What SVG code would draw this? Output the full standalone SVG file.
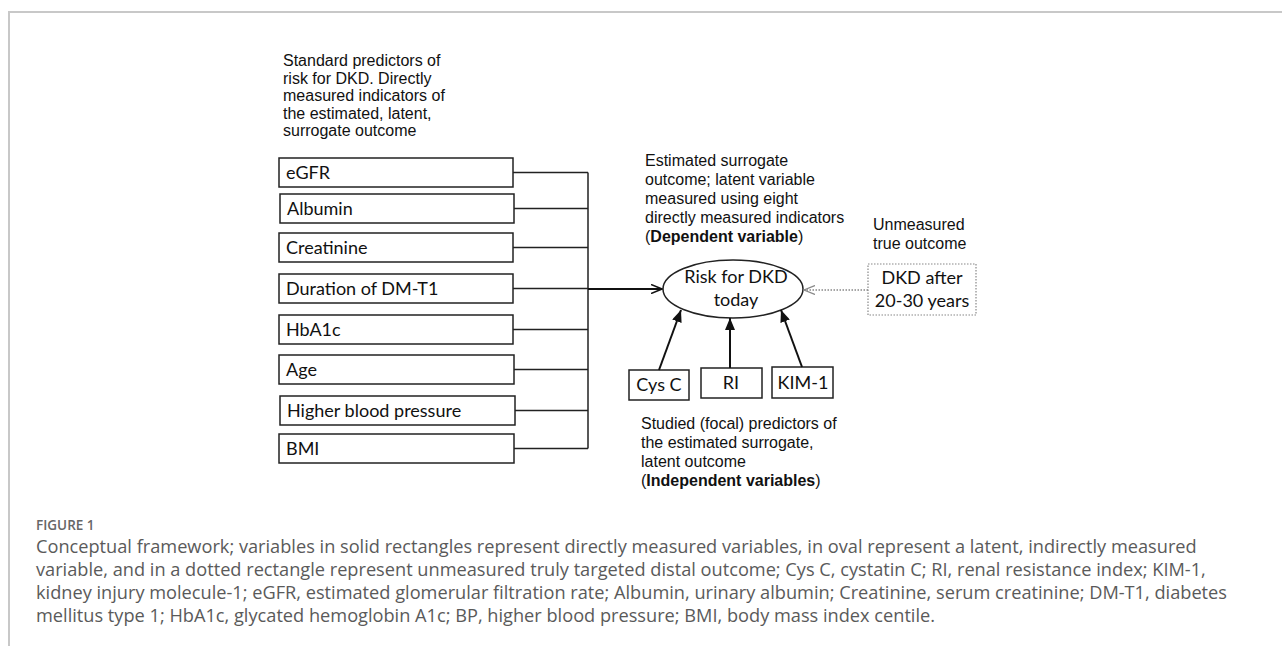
<svg xmlns="http://www.w3.org/2000/svg" width="1282" height="646" viewBox="0 0 1282 646">
<defs>
<style>
.head{font-family:"Liberation Sans",Arial,sans-serif;font-size:16px;fill:#111}
.lbl{font-family:Lato,"Open Sans",sans-serif;font-size:18px;fill:#111}
.box{fill:#fff;stroke:#222;stroke-width:1.5}
.dot{fill:#fff;stroke:#888;stroke-width:1.2;stroke-dasharray:1.5 1.5}
.con{fill:none;stroke:#222;stroke-width:1.5}
.thick{fill:none;stroke:#111;stroke-width:2}
.cap{font-family:"Open Sans","Noto Sans",sans-serif;font-size:18.2px;fill:#5a5a5a}
.fig{font-family:"Open Sans","Noto Sans",sans-serif;font-size:13.5px;font-weight:600;fill:#666}
.frame{fill:none;stroke:#c8c8c8;stroke-width:2}
</style>
<marker id="filled" viewBox="0 0 12 10" refX="12" refY="5" markerWidth="12" markerHeight="10" markerUnits="userSpaceOnUse" orient="auto">
<path d="M0,0 L12,5 L0,10 Z" fill="#111"/>
</marker>
<marker id="open" viewBox="0 0 12 10" refX="11" refY="5" markerWidth="12" markerHeight="10" markerUnits="userSpaceOnUse" orient="auto">
<path d="M0,0.5 L11,5 L0,9.5" fill="none" stroke="#111" stroke-width="1.6"/>
</marker>
<marker id="opengray" viewBox="0 0 12 10" refX="11" refY="5" markerWidth="12" markerHeight="10" markerUnits="userSpaceOnUse" orient="auto">
<path d="M0,0.5 L11,5 L0,9.5" fill="none" stroke="#888" stroke-width="1.3"/>
</marker>
</defs>
<rect width="1282" height="646" fill="#fff"/>
<path class="frame" d="M9,646 L9,12 L1282,12"/>

<g id="heading-standard">
<text class="head" x="283" y="66">Standard predictors of</text>
<text class="head" x="283" y="83.5">risk for DKD. Directly</text>
<text class="head" x="283" y="101">measured indicators of</text>
<text class="head" x="283" y="118.5">the estimated, latent,</text>
<text class="head" x="283" y="136">surrogate outcome</text>
</g>

<g id="node-egfr"><rect class="box" x="279" y="158" width="234" height="29"/><text class="lbl" x="286" y="178.5">eGFR</text></g>
<g id="node-albumin"><rect class="box" x="280" y="194" width="234" height="29"/><text class="lbl" x="287" y="214.5">Albumin</text></g>
<g id="node-creatinine"><rect class="box" x="279" y="233" width="234" height="29"/><text class="lbl" x="286" y="253.5">Creatinine</text></g>
<g id="node-duration"><rect class="box" x="279" y="274" width="234" height="29"/><text class="lbl" x="286" y="294.5">Duration of DM-T1</text></g>
<g id="node-hba1c"><rect class="box" x="279" y="315" width="234" height="29"/><text class="lbl" x="286" y="335.5">HbA1c</text></g>
<g id="node-age"><rect class="box" x="279" y="355" width="235" height="29"/><text class="lbl" x="286" y="375.5">Age</text></g>
<g id="node-bp"><rect class="box" x="280" y="396" width="235" height="29"/><text class="lbl" x="287" y="416.5">Higher blood pressure</text></g>
<g id="node-bmi"><rect class="box" x="279" y="434" width="235" height="29"/><text class="lbl" x="286" y="454.5">BMI</text></g>

<g id="heading-estimated">
<text class="head" x="645" y="166">Estimated surrogate</text>
<text class="head" x="645" y="185">outcome; latent variable</text>
<text class="head" x="645" y="204">measured using eight</text>
<text class="head" x="645" y="223">directly measured indicators</text>
<text class="head" x="645" y="242">(<tspan font-weight="bold">Dependent variable</tspan>)</text>
</g>

<g id="heading-unmeasured">
<text class="head" x="873" y="230">Unmeasured</text>
<text class="head" x="873" y="249">true outcome</text>
</g>

<g id="node-risk">
<ellipse class="box" cx="733" cy="289" rx="70" ry="29"/>
<text class="lbl" x="736" y="283" text-anchor="middle">Risk for DKD</text>
<text class="lbl" x="736" y="306" text-anchor="middle">today</text>
</g>

<g id="node-dkd">
<rect class="dot" x="868" y="264" width="108" height="51"/>
<text class="lbl" x="922" y="284" text-anchor="middle">DKD after</text>
<text class="lbl" x="922" y="307" text-anchor="middle">20-30 years</text>
</g>

<g id="node-cysc"><rect class="box" x="629" y="370" width="60" height="30"/><text class="lbl" x="659" y="391" text-anchor="middle">Cys C</text></g>
<g id="node-ri"><rect class="box" x="701" y="368" width="61" height="30"/><text class="lbl" x="731" y="389" text-anchor="middle">RI</text></g>
<g id="node-kim1"><rect class="box" x="772" y="367" width="61" height="31"/><text class="lbl" x="803" y="389" text-anchor="middle">KIM-1</text></g>

<g id="heading-studied">
<text class="head" x="641" y="429">Studied (focal) predictors of</text>
<text class="head" x="641" y="448">the estimated surrogate,</text>
<text class="head" x="641" y="467">latent outcome</text>
<text class="head" x="641" y="486">(<tspan font-weight="bold">Independent variables</tspan>)</text>
</g>

<g id="connectors">
<path class="con" d="M513,172.5 H588 M514,208.5 H588 M513,247.5 H588 M513,288.5 H588 M513,329.5 H588 M514,369.5 H588 M515,410.5 H588 M514,448.5 H588 M588,172.5 V448.5"/>
<path class="thick" d="M588,289 H662" marker-end="url(#open)"/>
<path d="M868,290 H804" fill="none" stroke="#888" stroke-width="1.3" stroke-dasharray="1.5 1.5" marker-end="url(#opengray)"/>
<path class="thick" d="M659,370 L681,310" marker-end="url(#filled)"/>
<path class="thick" d="M730,368 V318" marker-end="url(#filled)"/>
<path class="thick" d="M802,367 L781,310" marker-end="url(#filled)"/>
</g>

<g id="caption">
<text class="fig" x="36" y="530">FIGURE 1</text>
<text class="cap" x="36" y="553">Conceptual framework; variables in solid rectangles represent directly measured variables, in oval represent a latent, indirectly measured</text>
<text class="cap" x="36" y="576">variable, and in a dotted rectangle represent unmeasured truly targeted distal outcome; Cys C, cystatin C; RI, renal resistance index; KIM-1,</text>
<text class="cap" x="36" y="599">kidney injury molecule-1; eGFR, estimated glomerular filtration rate; Albumin, urinary albumin; Creatinine, serum creatinine; DM-T1, diabetes</text>
<text class="cap" x="36" y="622">mellitus type 1; HbA1c, glycated hemoglobin A1c; BP, higher blood pressure; BMI, body mass index centile.</text>
</g>
</svg>
